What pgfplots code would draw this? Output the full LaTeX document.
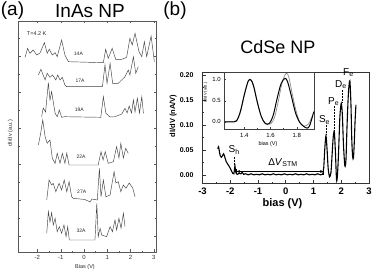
\documentclass[border=0pt]{standalone}
\usepackage{fontspec}
\setmainfont{Liberation Sans}
\usepackage{pgfplots}
\pgfplotsset{compat=1.18}
\usetikzlibrary{arrows.meta}

\pgfplotstableread{
x y
-2.53 194.7
-2.42 203.7
-2.32 198.7
-2.18 202
-2.03 197
-1.89 199
-1.70 209.3
-1.58 198.7
-1.49 202.7
-1.36 197
-1.24 199.3
-1.15 195.3
-0.96 212
-0.82 197
-0.67 190.3
0.83 189.3
0.93 202.7
1.04 193.7
1.21 203.7
1.36 192.7
1.62 192.7
1.83 194.7
1.97 213.7
2.07 207
2.19 218.7
2.36 200.3
2.48 195.3
2.59 210.3
2.69 195.3
2.88 216
3.02 190.3
}\tabA

\pgfplotstableread{
x y
-1.96 177
-1.85 182.7
-1.67 172
-1.58 178.7
-1.46 174.7
-1.35 177
-1.21 172
-1.13 177
-1.03 172
-0.93 174.7
-0.82 167
-0.74 165.3
0.79 165.3
0.90 187
0.99 168.7
1.12 188.7
1.23 168.7
1.47 168.7
1.76 175.3
1.90 182
1.97 177
2.12 195.3
2.22 178.7
2.33 185.3
}\tabB

\pgfplotstableread{
x y
-1.82 135.3
-1.75 144
-1.65 140
-1.53 169.3
-1.46 152
-1.39 160.3
-1.24 138.7
-1.15 135.3
-1.06 142
-0.96 134.7
-0.82 135.3
0.72 134.7
0.83 155.3
0.94 138.7
1.12 135
1.33 135.3
1.62 138
1.76 143.7
1.85 139
1.94 146
2.04 139
2.12 152
2.19 140
2.29 153.7
2.38 139
2.48 155.3
2.55 138.7
}\tabC

\pgfplotstableread{
x y
-1.96 107
-1.86 118.7
-1.77 132
-1.67 115.3
-1.58 108.7
-1.46 112
-1.36 93.7
-1.24 88.7
-1.15 98.7
-1.03 88.7
-0.93 98.7
-0.82 88.7
-0.74 98.7
-0.64 87
-0.60 87
0.61 87
0.73 100.3
0.82 92
0.91 100.3
1.04 88.7
1.26 90.3
1.40 105.3
1.50 94
1.58 108.7
1.69 94
1.79 103.7
1.90 98.7
}\tabD

\pgfplotstableread{
x y
-1.60 52
-1.50 72
-1.39 67
-1.32 68.7
-1.21 60.3
-1.07 68.7
-0.96 62
-0.85 72
-0.74 60.3
-0.64 70.3
-0.53 55.3
-0.46 53.7
0.04 52.5
0.26 50
0.34 53
0.57 52
0.66 83.7
0.73 55.3
0.83 72
0.94 55.3
1.12 57
1.29 80.3
1.37 69
1.47 70.3
1.58 60.3
1.69 67
1.80 63.7
1.94 69
2.09 64
2.19 55.3
}\tabE

\pgfplotstableread{
x y
-1.60 18.7
-1.53 40.3
-1.46 30
-1.39 39.3
-1.32 27
-1.24 33.7
-1.15 20.3
-1.06 25.3
-0.96 18.7
-0.86 27
-0.77 15.3
-0.70 25.3
-0.63 12
-0.57 12
0.47 12
0.55 48.7
0.61 15.3
0.69 23.7
0.76 17
0.97 15.3
1.12 25.3
1.22 20.3
1.33 32
1.40 22
1.50 33.7
1.59 23.7
1.69 38.7
1.76 25.3
}\tabF

\pgfplotstableread{
x y
-2.45 0.052
-2.42 0.056
-2.39 0.046
-2.36 0.038
-2.32 0.035
-2.28 0.038
-2.24 0.042
-2.20 0.036
-2.15 0.027
-2.10 0.022
-2.05 0.018
-2.00 0.013
-1.95 0.007
-1.91 0.003
-1.87 0.002
-1.85 0.010
-1.83 0.018
-1.81 0.008
-1.78 0.002
-1.74 0.001
-1.68 0.003
-1.62 0.002
-1.57 0.005
-1.52 0.001
-1.45 0.002
-1.35 0.000
-1.25 0.002
-1.15 0.000
-1.05 0.001
-0.95 0.000
-0.85 0.002
-0.75 0.000
-0.65 0.001
-0.55 0.000
-0.45 0.002
-0.35 0.000
-0.25 0.001
-0.15 0.000
-0.05 0.002
0.05 0.000
0.15 0.001
0.25 0.000
0.35 0.002
0.45 0.000
0.55 0.001
0.65 0.000
0.75 0.002
0.85 0.000
0.95 0.001
1.05 0.000
1.15 0.002
1.25 0.000
1.33 0.001
1.37 0.015
1.41 0.055
1.45 0.078
1.49 0.050
1.53 0.012
1.58 -0.004
1.63 0.005
1.67 0.040
1.71 0.075
1.75 0.086
1.79 0.045
1.83 -0.010
1.86 -0.003
1.90 0.040
1.95 0.115
2.00 0.143
2.04 0.120
2.08 0.060
2.13 0.018
2.17 0.030
2.21 0.100
2.26 0.165
2.31 0.188
2.35 0.140
2.38 0.070
2.41 0.036
2.44 0.034
2.47 0.065
2.50 0.110
2.53 0.140
}\tabMain

\pgfplotstableread{
x y
1.25 0.00
1.30 0.00
1.34 0.02
1.37 0.25
1.40 0.65
1.43 0.97
1.45 0.99
1.47 0.85
1.50 0.45
1.53 0.12
1.56 -0.04
1.59 -0.04
1.62 0.15
1.65 0.55
1.68 0.90
1.71 1.03
1.73 0.95
1.76 0.60
1.79 0.22
1.82 0.00
1.85 -0.10
1.88 -0.15
1.90 -0.08
1.93 0.24
}\tabInBlack

\pgfplotstableread{
x y
1.25 0.01
1.30 0.01
1.34 0.03
1.37 0.22
1.40 0.62
1.43 0.96
1.45 1.00
1.47 0.88
1.50 0.47
1.53 0.12
1.56 -0.03
1.60 -0.05
1.63 0.10
1.66 0.50
1.69 0.95
1.72 1.15
1.74 1.05
1.77 0.60
1.80 0.20
1.83 -0.05
1.86 -0.10
1.89 -0.05
1.92 0.15
}\tabInGray

\begin{document}
\begin{tikzpicture}
\useasboundingbox (0pt,0pt) rectangle (373pt,273pt);

% titles
\node[font=\fontsize{19}{19}\selectfont] at (12.5pt,262pt) {(a)};
\node[font=\fontsize{19}{19}\selectfont] at (90pt,262pt) {InAs NP};
\node[font=\fontsize{19}{19}\selectfont] at (175pt,262pt) {(b)};
\node[font=\fontsize{18}{18}\selectfont] at (278pt,225.5pt) {CdSe NP};

% ---------------- panel (a)
\begin{axis}[
  at={(18.3pt,21pt)}, anchor=south west, scale only axis,
  width=138.4pt, height=231pt,
  xmin=-2.82, xmax=3.12, ymin=0, ymax=231,
  xtick={-2,-1,0,1,2,3}, minor x tick num=1,
  ytick={16,52,88,124,160,196}, minor ytick={34,70,106,142,178,214},
  yticklabels={},
  tick align=inside, major tick length=2.5pt, minor tick length=1.4pt,
  axis line style={black!65, line width=0.5pt},
  every tick/.style={black!65, line width=0.4pt},
  /pgf/number format/assume math mode=true,
  xticklabel style={font=\fontsize{6}{6}\selectfont, text=black!80},
  clip=false,
]
\addplot[black!75, line width=0.45pt] table {\tabA};
\addplot[black!75, line width=0.45pt] table {\tabB};
\addplot[black!75, line width=0.45pt] table {\tabC};
\addplot[black!75, line width=0.45pt] table {\tabD};
\addplot[black!75, line width=0.45pt] table {\tabE};
\addplot[black!75, line width=0.45pt] table {\tabF};
\begin{scope}[every node/.style={font=\fontsize{5}{5}\selectfont, text=black!85}]
\node at (axis cs:-0.24,198.7) {14A};
\node at (axis cs:-0.17,171) {17A};
\node at (axis cs:-0.20,142) {19A};
\node at (axis cs:-0.13,95.3) {22A};
\node at (axis cs:-0.10,60.3) {27A};
\node at (axis cs:-0.13,21) {32A};
\node[font=\fontsize{5.5}{5.5}\selectfont] at (axis cs:-2.03,218) {T=4.2 K};
\end{scope}
\end{axis}
\node[font=\fontsize{5.5}{5.5}\selectfont, text=black!85] at (85pt,5.7pt) {Bias (V)};
\node[font=\fontsize{5.5}{5.5}\selectfont, text=black!85, rotate=90] at (10.5pt,140pt) {dI/dv (a.u.)};

% ---------------- panel (b) main
\begin{axis}[
  at={(202.5pt,89.7pt)}, anchor=south west, scale only axis,
  width=166.5pt, height=111pt,
  xmin=-3, xmax=3, ymin=-0.017, ymax=0.205,
  xtick={-3,-2,-1,0,1,2,3}, minor x tick num=1,
  ytick={0,0.05,0.1,0.15,0.2}, minor y tick num=1,
  xtick pos=left, ytick pos=left,
  tick align=inside, major tick length=3pt, minor tick length=1.6pt,
  axis line style={black!80, line width=0.6pt},
  every tick/.style={black!80, line width=0.5pt},
  /pgf/number format/assume math mode=true,
  xticklabel style={font=\bfseries\fontsize{9.5}{9.5}\selectfont, yshift=-1.5pt},
  yticklabel style={font=\bfseries\fontsize{7}{7}\selectfont, xshift=-5.5pt,
     /pgf/number format/.cd, fixed, fixed zerofill, precision=2},
  clip=false,
]
\addplot[black, line width=1.1pt, smooth, tension=0.45] table {\tabMain};
\begin{scope}[every node/.style={font=\fontsize{10}{10}\selectfont}]
\node at (axis cs:1.40,0.110) {S\textsubscript{e}};
\node at (axis cs:1.73,0.1466) {P\textsubscript{e}};
\node at (axis cs:1.99,0.180) {D\textsubscript{e}};
\node at (axis cs:2.26,0.2046) {F\textsubscript{e}};
\node at (axis cs:-1.86,0.050) {S\textsubscript{h}};
\node at (axis cs:-0.10,0.024) {Δ\textit{V}\textsubscript{STM}};
\end{scope}
\draw[densely dotted, line width=0.5pt] (axis cs:1.45,0.100) -- (axis cs:1.45,0.080);
\draw[densely dotted, line width=0.5pt] (axis cs:1.75,0.138) -- (axis cs:1.75,0.088);
\draw[densely dotted, line width=0.5pt] (axis cs:2.02,0.170) -- (axis cs:2.02,0.145);
\draw[densely dotted, line width=0.5pt] (axis cs:-1.84,0.036) -- (axis cs:-1.84,0.018);
\draw[{Stealth[length=3.5pt,width=3pt]}-{Stealth[length=3.5pt,width=3pt]}, line width=0.6pt]
  (axis cs:-1.77,0.0066) -- (axis cs:1.36,0.0066);
\draw[line width=0.6pt] (axis cs:-1.77,0.0010) -- (axis cs:-1.77,0.0120);
\draw[line width=0.6pt] (axis cs:1.37,0.0000) -- (axis cs:1.37,0.0140);
\end{axis}
\node[font=\bfseries\fontsize{11}{11}\selectfont] at (282.5pt,69.5pt) {bias (V)};
\node[font=\bfseries\fontsize{7.5}{7.5}\selectfont, rotate=90] at (173.3pt,157pt) {dI/dV (nA/V)};

% ---------------- panel (b) inset
\begin{axis}[
  at={(224.3pt,144pt)}, anchor=south west, scale only axis,
  width=90pt, height=57pt,
  xmin=1.247, xmax=1.934, ymin=-0.17, ymax=1.18,
  xtick={1.4,1.6,1.8}, minor x tick num=1,
  ytick={0,0.5,1}, minor y tick num=1,
  xtick pos=left, ytick pos=left,
  tick align=inside, major tick length=2pt, minor tick length=1.1pt,
  axis background/.style={fill=white},
  axis line style={black!75, line width=0.5pt},
  every tick/.style={black!75, line width=0.4pt},
  /pgf/number format/assume math mode=true,
  xticklabel style={font=\fontsize{6}{6}\selectfont, yshift=-1pt,
     /pgf/number format/.cd, fixed, fixed zerofill, precision=1},
  yticklabel style={font=\fontsize{6}{6}\selectfont,
     /pgf/number format/.cd, fixed, fixed zerofill, precision=1},
  clip=false,
]
\addplot[black!50, line width=0.6pt, smooth] table {\tabInGray};
\addplot[black, line width=1.0pt, smooth] table {\tabInBlack};
\end{axis}
\node[font=\fontsize{5.5}{5.5}\selectfont] at (268pt,129.3pt) {bias (V)};
\node[font=\fontsize{4}{4}\selectfont, rotate=90] at (205.5pt,180.5pt) {dI/dV (arb.)};

\end{tikzpicture}
\end{document}
